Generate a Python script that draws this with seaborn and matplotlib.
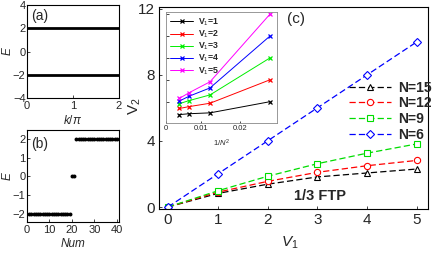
import numpy as np
import pandas as pd
import matplotlib
matplotlib.use("Agg")
import matplotlib.pyplot as plt
import seaborn as sns

# panel (a): flat bands
k_vals = [0, 2]
band_up = [2, 2]
band_dn = [-2, -2]

# panel (b): 40 eigen-energies
num_idx = list(range(1, 41))
energies = [-2] * 19 + [0] * 2 + [2] * 19

# panel (c): V2 vs V1 for different N
v1 = [0, 1, 2, 3, 4, 5]
n_sizes = [15, 12, 9, 6]
v2_n15 = [0, 0.82, 1.38, 1.82, 2.06, 2.30]
v2_n12 = [0, 0.90, 1.55, 2.10, 2.50, 2.82]
v2_n9 = [0, 0.98, 1.86, 2.62, 3.26, 3.82]
v2_n6 = [0, 2.0, 4.0, 6.0, 8.0, 10.0]

sns.set_style("white", {"xtick.direction": "in", "ytick.direction": "in",
                        "xtick.bottom": True, "ytick.left": True,
                        "axes.edgecolor": "black"})
plt.rcParams['font.family'] = ['Liberation Sans', 'DejaVu Sans']
plt.rcParams['mathtext.fontset'] = 'custom'
plt.rcParams['mathtext.rm'] = 'Liberation Sans'
plt.rcParams['mathtext.it'] = 'Liberation Sans:italic'
plt.rcParams['axes.linewidth'] = 0.8
plt.rcParams['xtick.major.size'] = 2.5
plt.rcParams['ytick.major.size'] = 2.5
plt.rcParams['xtick.major.width'] = 0.6
plt.rcParams['ytick.major.width'] = 0.6

fig = plt.figure(figsize=(4.37, 2.54), dpi=100)
W, H = 437.0, 254.0


def px_axes(x0, y0, x1, y1):
    return fig.add_axes([x0 / W, 1 - y1 / H, (x1 - x0) / W, (y1 - y0) / H])


# ---- (a)
ax_a = px_axes(27, 5, 119, 98)
sns.lineplot(x=k_vals, y=band_up, color='black', lw=2.0, ax=ax_a)
sns.lineplot(x=k_vals, y=band_dn, color='black', lw=2.0, ax=ax_a)
ax_a.set_xlim(0, 2)
ax_a.set_ylim(-4, 4)
ax_a.set_xticks([0, 1, 2])
ax_a.set_yticks([-4, -2, 0, 2, 4])
ax_a.tick_params(labelsize=8, pad=1)
ax_a.tick_params(axis='x', pad=2.5)
ax_a.set_xlabel(r'$k/\pi$', fontsize=8.5)
ax_a.set_ylabel('E', fontsize=8.5, style='italic')
ax_a.xaxis.set_label_coords(0.5, -0.175)
ax_a.yaxis.set_label_coords(-0.14, 0.5)
ax_a.text(0.05, 0.84, '(a)', transform=ax_a.transAxes, fontsize=10)

# ---- (b)
ax_b = px_axes(27, 130, 119, 222)
sns.scatterplot(x=num_idx, y=energies, color='black', s=8, linewidth=0, ax=ax_b)
ax_b.set_xlim(0, 41)
ax_b.set_ylim(-2.4, 2.45)
ax_b.set_xticks([0, 10, 20, 30, 40])
ax_b.set_yticks([-2, -1, 0, 1, 2])
ax_b.tick_params(labelsize=8, pad=1)
ax_b.tick_params(axis='x', pad=2.5)
ax_b.set_xlabel('Num', fontsize=8.5, style='italic')
ax_b.set_ylabel('E', fontsize=8.5, style='italic')
ax_b.xaxis.set_label_coords(0.5, -0.175)
ax_b.yaxis.set_label_coords(-0.14, 0.5)
ax_b.text(0.05, 0.8, '(b)', transform=ax_b.transAxes, fontsize=10)

# ---- (c)
ax_c = px_axes(159, 7, 428, 209)
series = [v2_n15, v2_n12, v2_n9, v2_n6]
colors = ['black', 'red', '#00dd00', 'blue']
markers = ['^', 'o', 's', 'D']
msizes = [4, 4.5, 4, 3.8]
for n, vals, c, m, ms in zip(n_sizes, series, colors, markers, msizes):
    sns.lineplot(x=v1, y=vals, color=c, marker=m, linestyle=(0, (5, 2.5)),
                 lw=0.9, ms=ms, mfc='white', mec=c, mew=0.8,
                 label=f'N={n}', ax=ax_c)
ax_c.set_xlim(-0.18, 5.22)
ax_c.set_ylim(-0.12, 12.1)
ax_c.set_xticks(v1)
ax_c.set_yticks([0, 4, 8, 12])
ax_c.tick_params(labelsize=11, pad=3)
ax_c.set_xlabel('$V_1$', fontsize=11)
ax_c.set_ylabel('V$_2$', fontsize=11)
ax_c.xaxis.set_label_coords(0.487, -0.125)
ax_c.yaxis.set_label_coords(-0.06, 0.51)
leg = ax_c.legend(loc='center right', bbox_to_anchor=(1.05, 0.485), frameon=False,
                  prop={'weight': 'bold', 'size': 10}, handlelength=3.0,
                  labelspacing=0.12, handletextpad=0.5, borderpad=0.2)
ax_c.text(0.60, 0.065, '1/3 FTP', transform=ax_c.transAxes, fontsize=10.5,
          fontweight='bold', ha='center', va='center')
ax_c.text(0.51, 0.94, '(c)', transform=ax_c.transAxes, fontsize=11,
          ha='center', va='center')

# ---- inset
ax_i = px_axes(166, 12, 277, 122.7)
inv_n2 = [1.0 / n ** 2 for n in n_sizes]
in_colors = ['black', 'red', '#00ee00', 'blue', 'magenta']
for j, c in enumerate(in_colors):
    vals = [s[j + 1] for s in series]
    sns.lineplot(x=inv_n2, y=vals, color=c, marker='x', lw=0.7, ms=3,
                 mec=c, mew=0.9, label=f'V$_1$={v1[j + 1]}', ax=ax_i)
ax_i.set_xlim(0.001, 0.0296)
ax_i.set_ylim(0.08, 10.2)
ax_i.set_xticks([0.001, 0.01, 0.02])
ax_i.set_xticklabels(['0', '0.01', '0.02'])
ax_i.set_yticks([2, 4, 6, 8, 10])
ax_i.set_yticklabels([])
ax_i.tick_params(labelsize=5.5, pad=1.5, length=1.8)
for sp in ax_i.spines.values():
    sp.set_color('#888888')
    sp.set_linewidth(0.6)
ax_i.set_xlabel('$1/N^2$', fontsize=5.5)
ax_i.xaxis.set_label_coords(0.5, -0.14)
ax_i.set_ylabel('')
ax_i.legend(loc='upper left', frameon=False, prop={'weight': 'bold', 'size': 6.3},
            handlelength=2.6, labelspacing=0.08, handletextpad=0.5,
            borderpad=0.3, borderaxespad=0.2)

fig.savefig('out.png', dpi=100)
